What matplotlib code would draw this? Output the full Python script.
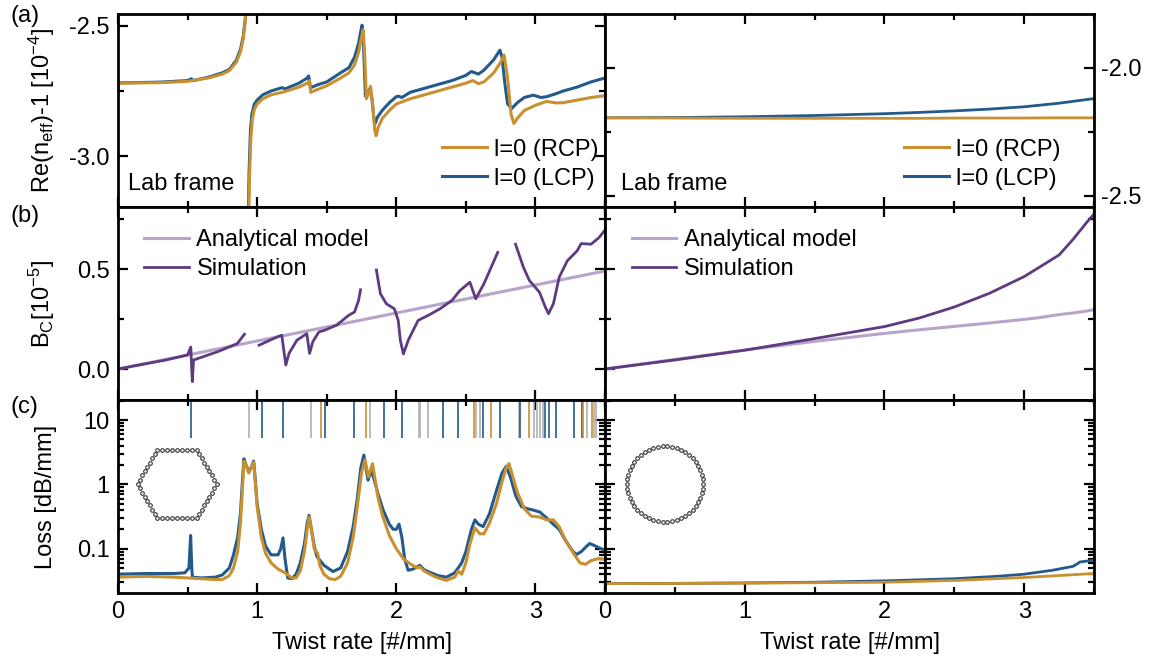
import numpy as np
import matplotlib.pyplot as plt
from matplotlib.ticker import MultipleLocator, FixedLocator, FixedFormatter, LogLocator, NullFormatter

plt.rcParams['font.family'] = ['Liberation Sans', 'DejaVu Sans']
plt.rcParams['mathtext.fontset'] = 'custom'
plt.rcParams['mathtext.rm'] = 'Liberation Sans'
plt.rcParams['mathtext.it'] = 'Liberation Sans:italic'
plt.rcParams['mathtext.default'] = 'regular'

ORANGE = '#C8902F'
BLUE = '#245A8B'
GREY = '#B0B0B0'
PURPLE = '#5E3B80'
LILAC = '#B7A4CB'
nan = np.nan

# ---------------- (a) Re(n_eff)-1, hexagonal fibre (left) ----------------
a_rcp_x = [0, 0.3, 0.5, 0.65, 0.75, 0.8, 0.85, 0.88, 0.90, 0.915, 0.925, nan,
           0.935, 0.945, 0.955, 0.965, 0.98, 1.0, 1.04, 1.1, 1.2, 1.3, 1.36, 1.375, 1.385,
           1.43, 1.5, 1.6, 1.66, 1.70, 1.73, 1.75, 1.762, 1.772, 1.785, 1.80, 1.815, 1.83,
           1.845, 1.855, 1.87, 1.9, 1.95, 2.0, 2.1, 2.2, 2.3, 2.4, 2.5, 2.55, 2.59, 2.63,
           2.7, 2.75, 2.775, 2.80, 2.825, 2.845, 2.87, 2.92, 3.0, 3.08, 3.15, 3.2, 3.3, 3.4, 3.5]
a_rcp_y = [-2.72, -2.718, -2.713, -2.70, -2.685, -2.672, -2.64, -2.60, -2.55, -2.48, -2.40, nan,
           -3.35, -3.08, -2.93, -2.86, -2.82, -2.80, -2.78, -2.765, -2.752, -2.735, -2.72, -2.71, -2.755,
           -2.745, -2.73, -2.70, -2.68, -2.65, -2.60, -2.545, -2.515, -2.60, -2.78, -2.76, -2.732, -2.80,
           -2.90, -2.922, -2.89, -2.855, -2.825, -2.80, -2.78, -2.765, -2.75, -2.735, -2.72, -2.71, -2.722, -2.715,
           -2.68, -2.64, -2.612, -2.70, -2.84, -2.875, -2.855, -2.825, -2.805, -2.79, -2.796, -2.795, -2.785, -2.775, -2.768]

a_lcp_x = [0, 0.3, 0.5, 0.527, 0.54, 0.65, 0.75, 0.8, 0.85, 0.88, 0.90, 0.915, 0.925, nan,
           0.932, 0.942, 0.952, 0.962, 0.98, 1.0, 1.04, 1.1, 1.18, 1.2, 1.3, 1.36, 1.37, 1.383,
           1.43, 1.5, 1.6, 1.66, 1.70, 1.73, 1.745, 1.754, 1.765, 1.778, 1.795, 1.81, 1.825,
           1.84, 1.848, 1.865, 1.9, 1.95, 2.0, 2.015, 2.04, 2.1, 2.2, 2.3, 2.4, 2.5, 2.54, 2.59,
           2.63, 2.7, 2.73, 2.745, 2.76, 2.78, 2.80, 2.83, 2.87, 2.92, 2.985, 3.04, 3.08, 3.15,
           3.2, 3.3, 3.4, 3.5]
a_lcp_y = [-2.719, -2.716, -2.71, -2.703, -2.71, -2.697, -2.68, -2.667, -2.632, -2.59, -2.54, -2.47, -2.38, nan,
           -3.35, -3.06, -2.90, -2.84, -2.80, -2.785, -2.765, -2.75, -2.737, -2.742, -2.72, -2.70, -2.692, -2.738,
           -2.727, -2.715, -2.68, -2.66, -2.62, -2.565, -2.52, -2.497, -2.58, -2.77, -2.755, -2.74, -2.78,
           -2.86, -2.875, -2.85, -2.824, -2.795, -2.772, -2.77, -2.775, -2.755, -2.74, -2.725, -2.71, -2.69, -2.675, -2.685,
           -2.67, -2.63, -2.605, -2.593, -2.62, -2.72, -2.80, -2.817, -2.795, -2.775, -2.766, -2.775, -2.772, -2.76,
           -2.75, -2.735, -2.715, -2.70]

# ---------------- (a) circular fibre (right) ----------------
ar_x = [0, 0.5, 1.0, 1.5, 2.0, 2.25, 2.5, 2.75, 3.0, 3.25, 3.5]
ar_rcp_y = [-2.195, -2.196, -2.197, -2.197, -2.197, -2.197, -2.196, -2.196, -2.196, -2.195, -2.195]
ar_lcp_y = [-2.195, -2.194, -2.191, -2.186, -2.179, -2.174, -2.168, -2.161, -2.152, -2.138, -2.12]

# ---------------- (b) circular birefringence ----------------
b_sim_x = [0, 0.343, 0.5, 0.523, 0.534, 0.543, 0.714, 0.857, 0.909, nan,
           1.014, 1.143, 1.177, 1.206, 1.229, 1.286, 1.357, 1.377, 1.4, 1.443, 1.486, 1.571,
           1.657, 1.7, 1.729, 1.743, nan,
           1.857, 1.886, 1.929, 1.986, 2.014, 2.029, 2.051, 2.086, 2.157, 2.229, 2.314, 2.4,
           2.457, 2.529, 2.571, 2.629, 2.729, nan,
           2.857, 2.914, 2.957, 3.029, 3.071, 3.094, 3.129, 3.171, 3.229, 3.3, 3.329, 3.4, 3.457, 3.514]
b_sim_y = [0, 0.045, 0.07, 0.11, -0.063, 0.045, 0.086, 0.127, 0.174, nan,
           0.119, 0.16, 0.169, 0.02, 0.078, 0.144, 0.177, 0.078, 0.136, 0.185, 0.194, 0.219,
           0.268, 0.285, 0.343, 0.396, nan,
           0.495, 0.376, 0.326, 0.301, 0.243, 0.144, 0.075, 0.144, 0.243, 0.268, 0.301, 0.343,
           0.392, 0.434, 0.351, 0.425, 0.583, nan,
           0.624, 0.508, 0.442, 0.384, 0.31, 0.276, 0.326, 0.459, 0.541, 0.591, 0.627, 0.624, 0.657, 0.707]
b_model_x = [0, 3.5]
b_model_y = [0, 0.49]

br_x = [0, 0.5, 1.0, 1.5, 2.0, 2.25, 2.5, 2.75, 3.0, 3.1, 3.25, 3.35, 3.45, 3.5]
br_model_y = [0, 0.048, 0.095, 0.138, 0.178, 0.196, 0.213, 0.23, 0.248, 0.256, 0.272, 0.28, 0.29, 0.297]
br_sim_y = [0, 0.045, 0.094, 0.152, 0.212, 0.255, 0.31, 0.378, 0.462, 0.505, 0.57, 0.648, 0.735, 0.775]

# ---------------- (c) loss ----------------
c_rcp_x = [0, 0.2, 0.4, 0.6, 0.7, 0.75, 0.8, 0.83, 0.86, 0.88, 0.895, 0.905, 0.92, 0.94, 0.96, 0.975,
           0.985, 1.0, 1.03, 1.06, 1.1, 1.15, 1.2, 1.25, 1.28, 1.31, 1.34, 1.36, 1.373, 1.39, 1.41,
           1.425, 1.435, 1.45, 1.48, 1.52, 1.56, 1.6, 1.65, 1.69, 1.72, 1.75, 1.775, 1.80, 1.829,
           1.845, 1.87, 1.9, 1.95, 2.0, 2.05, 2.1, 2.15, 2.17, 2.2, 2.25, 2.3, 2.36, 2.42, 2.445,
           2.47, 2.5, 2.53, 2.565, 2.6, 2.63, 2.67, 2.72, 2.76, 2.79, 2.81, 2.83, 2.87, 2.92, 2.97,
           3.03, 3.08, 3.13, 3.17, 3.22, 3.28, 3.32, 3.36, 3.4, 3.45, 3.5]
c_rcp_y = [0.036, 0.037, 0.036, 0.034, 0.033, 0.033, 0.038, 0.05, 0.09, 0.25, 0.9, 2.3, 2.0, 1.5, 1.9, 2.2,
           1.2, 0.45, 0.15, 0.085, 0.06, 0.048, 0.042, 0.035, 0.035, 0.045, 0.09, 0.2, 0.31, 0.2, 0.1,
           0.09, 0.085, 0.055, 0.04, 0.034, 0.033, 0.037, 0.06, 0.15, 0.45, 1.5, 2.4, 1.3, 2.1,
           1.3, 0.6, 0.33, 0.16, 0.1, 0.07, 0.058, 0.05, 0.052, 0.045, 0.039, 0.035, 0.032, 0.036, 0.045,
           0.04, 0.06, 0.12, 0.21, 0.17, 0.17, 0.25, 0.5, 1.1, 1.8, 2.1, 1.5, 0.75, 0.42, 0.32,
           0.31, 0.28, 0.28, 0.22, 0.13, 0.08, 0.06, 0.057, 0.065, 0.07, 0.068]

c_lcp_x = [0, 0.2, 0.4, 0.48, 0.51, 0.522, 0.53, 0.535, 0.6, 0.7, 0.75, 0.8, 0.83, 0.86, 0.88, 0.895,
           0.905, 0.92, 0.94, 0.96, 0.975, 0.985, 1.0, 1.03, 1.06, 1.1, 1.15, 1.17, 1.186, 1.2, 1.22,
           1.25, 1.28, 1.31, 1.34, 1.36, 1.373, 1.39, 1.41, 1.43, 1.48, 1.545, 1.6, 1.65, 1.69, 1.72,
           1.745, 1.767, 1.797, 1.82, 1.84, 1.87, 1.905, 1.95, 1.977, 2.0, 2.02, 2.04, 2.06, 2.085,
           2.12, 2.169, 2.2, 2.25, 2.3, 2.36, 2.42, 2.47, 2.5, 2.54, 2.565, 2.59, 2.624, 2.67, 2.72,
           2.76, 2.79, 2.82, 2.86, 2.9, 2.937, 2.98, 3.032, 3.08, 3.128, 3.17, 3.22, 3.27, 3.296,
           3.33, 3.37, 3.39, 3.43, 3.47, 3.5]
c_lcp_y = [0.040, 0.041, 0.041, 0.042, 0.05, 0.16, 0.05, 0.036, 0.035, 0.036, 0.039, 0.05, 0.08, 0.15, 0.35, 1.2,
           2.5, 2.0, 1.55, 1.9, 2.3, 1.3, 0.5, 0.2, 0.11, 0.08, 0.08, 0.1, 0.147, 0.07, 0.035,
           0.034, 0.04, 0.06, 0.12, 0.25, 0.33, 0.2, 0.11, 0.075, 0.055, 0.044, 0.05, 0.09, 0.22, 0.6,
           1.8, 2.85, 1.16, 1.65, 1.2, 0.7, 0.4, 0.24, 0.2, 0.2, 0.24, 0.15, 0.07, 0.046,
           0.048, 0.055, 0.047, 0.042, 0.038, 0.036, 0.042, 0.06, 0.09, 0.2, 0.28, 0.24, 0.22, 0.35, 0.8,
           1.5, 1.9, 1.3, 0.65, 0.45, 0.42, 0.4, 0.37, 0.3, 0.24, 0.2, 0.13, 0.09, 0.081,
           0.09, 0.11, 0.12, 0.11, 0.1, 0.095]

cr_lcp_x = [0, 0.5, 1.0, 1.5, 2.0, 2.5, 2.8, 3.0, 3.2, 3.35, 3.38, 3.4, 3.5]
cr_lcp_y = [0.0285, 0.0288, 0.0293, 0.030, 0.0315, 0.034, 0.037, 0.040, 0.046, 0.053, 0.058, 0.062, 0.066]
cr_rcp_x = [0, 1.0, 1.5, 2.0, 2.5, 3.0, 3.5]
cr_rcp_y = [0.0285, 0.029, 0.0295, 0.030, 0.032, 0.0355, 0.041]

# mode markers at top of (c)
mark_lcp = [0.527, 1.034, 1.185, 1.489, 1.698, 1.914, 2.038, 2.336, 2.441, 2.621, 2.746, 2.889,
            3.072, 3.096, 3.149, 3.276, 3.333]
mark_rcp = [1.458, 1.782, 2.556, 2.683, 2.957, 3.345, 3.405]
mark_other = [0.942, 1.388, 1.813, 2.16, 2.17, 2.230, 2.573, 2.60, 2.880, 2.988, 3.012, 3.033,
              3.052, 3.369, 3.419, 3.436]

# ---------------- layout ----------------
W, H = 1149, 663
fig = plt.figure(figsize=(W / 100, H / 100), dpi=100)
cols = [118, 605, 1094]
rows = [14, 207, 400, 593]


def box(c, r):
    return [cols[c] / W, 1 - rows[r + 1] / H, (cols[c + 1] - cols[c]) / W, (rows[r + 1] - rows[r]) / H]


FS = 17


def style(ax):
    ax.set_xlim(0, 3.5)
    ax.xaxis.set_major_locator(MultipleLocator(1))
    ax.xaxis.set_minor_locator(MultipleLocator(0.5))
    ax.tick_params(which='both', direction='in', top=True, right=True, left=True, bottom=True,
                   labelsize=FS, width=1.6, pad=6)
    ax.tick_params(which='major', length=7)
    ax.tick_params(which='minor', length=4)
    for s in ax.spines.values():
        s.set_linewidth(2)


axs = [[fig.add_axes(box(c, r)) for c in range(2)] for r in range(3)]
for row in axs:
    for ax in row:
        style(ax)
for r in range(2):
    for ax in axs[r]:
        ax.tick_params(labelbottom=False)

leg_kw = dict(frameon=False, fontsize=FS, handlelength=1.9, handletextpad=0.3, labelspacing=0.3)

# (a) left
ax = axs[0][0]
ax.plot(a_lcp_x, a_lcp_y, color=BLUE, lw=2.2)
ax.plot(a_rcp_x, a_rcp_y, color=ORANGE, lw=2.2)
ax.set_ylim(-3.196, -2.454)
ax.yaxis.set_major_locator(FixedLocator([-3.0, -2.5]))
ax.yaxis.set_minor_locator(FixedLocator([-2.75]))
ax.set_yticklabels(['-3.0', '-2.5'])
ax.set_ylabel(r'Re(n$_{eff}$)-1 [10$^{-4}$]', fontsize=FS)
ax.yaxis.set_label_coords(-0.125, 0.5)
ax.text(0.02, 0.12, 'Lab frame', transform=ax.transAxes, fontsize=FS, va='center')
h_r, = ax.plot([], [], color=ORANGE, lw=2.2)
h_l, = ax.plot([], [], color=BLUE, lw=2.2)
ax.legend([h_r, h_l], ['l=0 (RCP)', 'l=0 (LCP)'], loc='lower right',
          bbox_to_anchor=(1.03, -0.02), **leg_kw)

# (a) right
ax = axs[0][1]
ax.plot(ar_x, ar_lcp_y, color=BLUE, lw=2.0)
ax.plot(ar_x, ar_rcp_y, color=ORANGE, lw=2.0)
ax.set_ylim(-2.543, -1.79)
ax.yaxis.set_major_locator(FixedLocator([-2.5, -2.0]))
ax.yaxis.set_minor_locator(FixedLocator([-2.25]))
ax.set_yticklabels(['-2.5', '-2.0'])
ax.tick_params(labelleft=False, labelright=True, pad=5)
ax.text(0.033, 0.12, 'Lab frame', transform=ax.transAxes, fontsize=FS, va='center')
h_r, = ax.plot([], [], color=ORANGE, lw=2.2)
h_l, = ax.plot([], [], color=BLUE, lw=2.2)
ax.legend([h_r, h_l], ['l=0 (RCP)', 'l=0 (LCP)'], loc='lower right',
          bbox_to_anchor=(0.975, -0.02), **leg_kw)

# (b)
for c, ax in enumerate(axs[1]):
    ax.set_ylim(-0.155, 0.81)
    ax.yaxis.set_major_locator(FixedLocator([0.0, 0.5]))
    ax.yaxis.set_minor_locator(FixedLocator([0.25, 0.75]))
ax = axs[1][0]
ax.plot(b_model_x, b_model_y, color=LILAC, lw=2.2, label='Analytical model')
ax.plot(b_sim_x, b_sim_y, color=PURPLE, lw=2.0, label='Simulation')
ax.set_yticklabels(['0.0', '0.5'])
ax.set_ylabel(r'B$_{C}$[10$^{-5}$]', fontsize=FS)
ax.yaxis.set_label_coords(-0.125, 0.5)
ax.legend(loc='upper left', bbox_to_anchor=(0.035, 0.935), borderaxespad=0, **leg_kw)
ax = axs[1][1]
ax.plot(br_x, br_model_y, color=LILAC, lw=2.2, label='Analytical model')
ax.plot(br_x, br_sim_y, color=PURPLE, lw=2.0, label='Simulation')
ax.tick_params(labelleft=False)
ax.legend(loc='upper left', bbox_to_anchor=(0.035, 0.935), borderaxespad=0, **leg_kw)

# (c)
for ax in axs[2]:
    ax.set_yscale('log')
    ax.set_ylim(0.0204, 20.5)
    ax.yaxis.set_major_locator(FixedLocator([0.1, 1, 10]))
    ax.yaxis.set_minor_locator(LogLocator(base=10, subs=np.arange(2, 10)))
    ax.yaxis.set_minor_formatter(NullFormatter())
    ax.set_xlabel('Twist rate [#/mm]', fontsize=FS, labelpad=6)
ax = axs[2][0]
ax.vlines(mark_other, 5.2, 25, colors=GREY, lw=1.2)
ax.vlines(mark_lcp, 5.2, 25, colors=BLUE, lw=1.2)
ax.vlines(mark_rcp, 5.2, 25, colors=ORANGE, lw=1.2)
ax.plot(c_lcp_x, c_lcp_y, color=BLUE, lw=2.2)
ax.plot(c_rcp_x, c_rcp_y, color=ORANGE, lw=2.2)
ax.yaxis.set_major_formatter(FixedFormatter(['0.1', '1', '10']))
ax.set_ylabel('Loss [dB/mm]', fontsize=FS)
ax.yaxis.set_label_coords(-0.125, 0.5)
ax = axs[2][1]
ax.plot(cr_lcp_x, cr_lcp_y, color=BLUE, lw=2.0)
ax.plot(cr_rcp_x, cr_rcp_y, color=ORANGE, lw=2.0)
ax.tick_params(which='both', labelleft=False)
ax.set_xticks([0, 1, 2, 3])
ax.set_xticklabels(['0', '1', '2', '3'])


# fibre cross-section insets (pixel-sized boxes)
def inset(cx, cy, size=100):
    a = fig.add_axes([(cx - size / 2) / W, 1 - (cy + size / 2) / H, size / W, size / H])
    a.set_xlim(-size / 2, size / 2)
    a.set_ylim(-size / 2, size / 2)
    a.axis('off')
    return a


hx = inset(177, 484)
R = 39.5
verts = [(R * np.cos(np.radians(60 * k)), R * np.sin(np.radians(60 * k))) for k in range(7)]
pts = []
for k in range(6):
    (x0, y0), (x1, y1) = verts[k], verts[k + 1]
    for t in np.arange(8) / 8:
        pts.append((x0 + (x1 - x0) * t, y0 + (y1 - y0) * t))
pts = np.array(pts)
hx.plot(pts[:, 0], pts[:, 1], 'o', ms=2.6, mfc='white', mec='#333333', mew=0.8)

cx = inset(665, 484)
th = np.linspace(0, 2 * np.pi, 50, endpoint=False)
cx.plot(38 * np.cos(th), 38 * np.sin(th), 'o', ms=2.6, mfc='white', mec='#333333', mew=0.8)

# panel letters
for lab, y in [('(a)', 16), ('(b)', 216), ('(c)', 407)]:
    fig.text(10 / W, 1 - y / H, lab, fontsize=FS, va='center', ha='left')

fig.savefig('out.png', dpi=100)
